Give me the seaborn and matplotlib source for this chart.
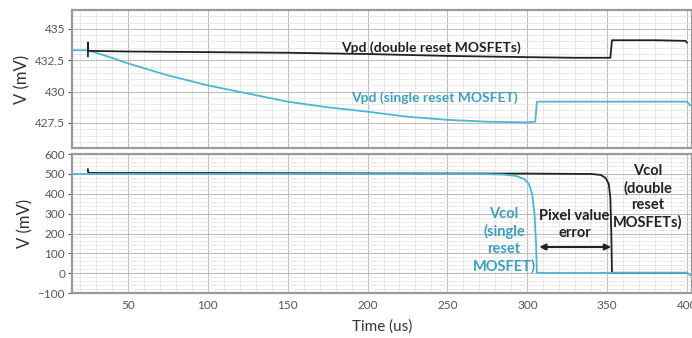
import numpy as np
import pandas as pd
import seaborn as sns
import matplotlib.pyplot as plt
from matplotlib.ticker import MultipleLocator

# Vpd traces (top panel)
t_vpd_double = [25, 25, 25, 26, 50, 100, 150, 200, 250, 300, 330, 352, 353, 380, 399, 400]
v_vpd_double = [432.8, 433.9, 433.3, 433.25, 433.2, 433.15, 433.1, 433.0, 432.85,
                432.75, 432.7, 432.7, 434.1, 434.1, 434.05, 433.9]
t_vpd_single = [15, 25, 40, 50, 75, 100, 125, 150, 175, 200, 225, 250, 275, 300,
                305, 306, 350, 400, 402]
v_vpd_single = [433.3, 433.3, 432.7, 432.25, 431.3, 430.5, 429.85, 429.2, 428.75,
                428.4, 428.0, 427.75, 427.6, 427.55, 427.6, 429.2, 429.2, 429.2, 428.9]

# Vcol traces (bottom panel)
t_vcol_single = [15, 100, 200, 270, 285, 293, 298, 301, 303, 304.5, 305.5, 306,
                 350, 400, 402]
v_vcol_single = [500, 500, 500, 500, 497, 490, 475, 450, 400, 300, 150, 2, 2, 2, -10]
t_vcol_double = [25, 25, 26, 100, 200, 300, 340, 346, 349, 351, 352, 352.6, 353,
                 380, 400]
v_vcol_double = [525, 510, 505, 505, 503, 502, 500, 495, 480, 450, 380, 200, 2, 2, 2]

black = '#222222'
cyan = '#4cb6d6'
cyan_txt = '#3e9fc2'

sns.set_style('white')
plt.rcParams['font.family'] = ['Lato', 'DejaVu Sans']

fig = plt.figure(figsize=(6.92, 3.38), dpi=100)
ax1 = fig.add_axes([0.104, 0.562, 0.896, 0.408])
ax2 = fig.add_axes([0.104, 0.133, 0.896, 0.411])

top = pd.concat([
    pd.DataFrame({'t': t_vpd_single, 'v': v_vpd_single, 's': 'single'}),
    pd.DataFrame({'t': t_vpd_double, 'v': v_vpd_double, 's': 'double'}),
])
bot = pd.concat([
    pd.DataFrame({'t': t_vcol_double, 'v': v_vcol_double, 's': 'double'}),
    pd.DataFrame({'t': t_vcol_single, 'v': v_vcol_single, 's': 'single'}),
])
pal = {'single': cyan, 'double': black}

sns.lineplot(data=top, x='t', y='v', hue='s', palette=pal, estimator=None,
             sort=False, lw=1.3, legend=False, ax=ax1)
sns.lineplot(data=bot, x='t', y='v', hue='s', palette=pal, estimator=None,
             sort=False, lw=1.3, legend=False, ax=ax2)

for ax in (ax1, ax2):
    ax.set_xlim(15, 403.1)
    ax.xaxis.set_major_locator(MultipleLocator(50))
    ax.xaxis.set_minor_locator(MultipleLocator(10))
    ax.grid(True, which='major', color='#bdbdbd', lw=0.8)
    ax.grid(True, which='minor', color='#e6e6e6', lw=0.6)
    ax.set_axisbelow(True)
    for sp in ax.spines.values():
        sp.set_color('#9a9a9a')
        sp.set_linewidth(1.6)
    ax.tick_params(axis='both', which='major', labelsize=8.5, colors='#555555',
                   length=3, direction='out', left=True, bottom=False, pad=2)
    ax.tick_params(axis='both', which='minor', length=0)
    ax.set_ylabel('V (mV)', fontsize=12, color='#333333', labelpad=3)
    ax.set_xlabel('')

ax1.set_ylim(425.5, 436.5)
ax1.yaxis.set_major_locator(MultipleLocator(2.5))
ax1.yaxis.set_minor_locator(MultipleLocator(0.5))
ax1.set_yticks([427.5, 430, 432.5, 435])
ax1.set_yticklabels(['427.5', '430', '432.5', '435'])
ax1.tick_params(axis='x', labelbottom=False)

ax2.set_ylim(-100, 600)
ax2.yaxis.set_major_locator(MultipleLocator(100))
ax2.yaxis.set_minor_locator(MultipleLocator(20))
ax2.set_xticks([50, 100, 150, 200, 250, 300, 350, 400])
ax2.set_xlabel('Time (us)', fontsize=11, color='#333333', labelpad=6)

ax1.text(240, 433.5, 'Vpd (double reset MOSFETs)', color=black, fontsize=10,
         fontweight='bold', ha='center', va='center')
ax1.text(242, 429.5, 'Vpd (single reset MOSFET)', color=cyan_txt, fontsize=10,
         fontweight='bold', ha='center', va='center')

ax2.text(285.5, 166, 'Vcol\n(single\nreset\nMOSFET)', color=cyan_txt, fontsize=10.5,
         fontweight='bold', ha='center', va='center', linespacing=1.25)
ax2.text(329.5, 247, 'Pixel value\nerror', color=black, fontsize=10.5,
         fontweight='bold', ha='center', va='center', linespacing=1.25)
ax2.text(375.5, 385, 'Vcol\n(double\nreset\nMOSFETs)', color=black, fontsize=10.5,
         fontweight='bold', ha='center', va='center', linespacing=1.25)
ax2.annotate('', xy=(307.5, 132), xytext=(352.5, 132),
             arrowprops=dict(arrowstyle='<|-|>', color=black, lw=1.5,
                             mutation_scale=9, shrinkA=0, shrinkB=0))

fig.savefig('out.png', dpi=100)
